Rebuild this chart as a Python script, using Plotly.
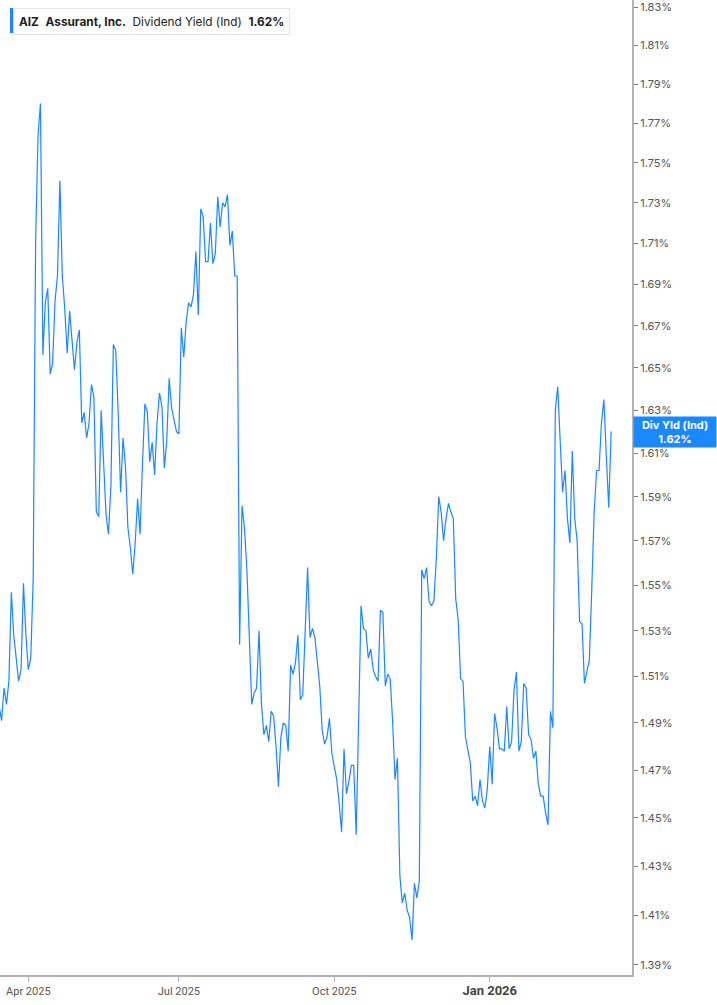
import math
import pandas as pd
import plotly.graph_objects as go

# AIZ - Assurant, Inc. indicated dividend yield (%), one value per trading day
ticker = "AIZ"
company = "Assurant, Inc."
metric = "Dividend Yield (Ind)"
first_day = "2025-03-14"
last_day = "2026-03-17"

# NYSE holidays inside the window (skipped on the axis)
holidays = ["2025-04-18", "2025-05-26", "2025-06-19", "2025-07-04", "2025-09-01",
            "2025-11-27", "2025-12-25", "2026-01-01", "2026-01-19", "2026-02-16"]

div_yield = [
    1.497, 1.491, 1.505, 1.498, 1.508, 1.547, 1.528, 1.518, 1.508, 1.513,
    1.551, 1.528, 1.513, 1.518, 1.553, 1.711, 1.764, 1.780, 1.656, 1.681,
    1.688, 1.647, 1.652, 1.682, 1.694, 1.741, 1.694, 1.678, 1.657, 1.677,
    1.664, 1.649, 1.662, 1.668, 1.624, 1.629, 1.617, 1.624, 1.642, 1.636,
    1.583, 1.581, 1.630, 1.605, 1.582, 1.573, 1.595, 1.661, 1.658, 1.629,
    1.592, 1.617, 1.604, 1.576, 1.567, 1.555, 1.569, 1.589, 1.573, 1.605,
    1.633, 1.629, 1.606, 1.615, 1.600, 1.624, 1.638, 1.632, 1.603, 1.616,
    1.645, 1.631, 1.626, 1.620, 1.619, 1.669, 1.655, 1.672, 1.681, 1.679,
    1.685, 1.706, 1.675, 1.727, 1.723, 1.701, 1.701, 1.720, 1.700, 1.705,
    1.733, 1.718, 1.730, 1.728, 1.734, 1.709, 1.716, 1.694, 1.694, 1.524,
    1.586, 1.576, 1.557, 1.525, 1.498, 1.503, 1.505, 1.530, 1.498, 1.485,
    1.489, 1.482, 1.495, 1.493, 1.480, 1.463, 1.484, 1.490, 1.489, 1.478,
    1.515, 1.511, 1.516, 1.528, 1.500, 1.502, 1.531, 1.558, 1.527, 1.531,
    1.527, 1.517, 1.506, 1.487, 1.481, 1.484, 1.492, 1.477, 1.471, 1.466,
    1.456, 1.444, 1.479, 1.460, 1.465, 1.472, 1.472, 1.443, 1.490, 1.541,
    1.531, 1.530, 1.518, 1.522, 1.513, 1.510, 1.508, 1.539, 1.538, 1.506,
    1.511, 1.509, 1.491, 1.466, 1.475, 1.426, 1.415, 1.419, 1.412, 1.409,
    1.400, 1.423, 1.417, 1.424, 1.557, 1.553, 1.558, 1.543, 1.541, 1.543,
    1.562, 1.590, 1.583, 1.570, 1.580, 1.587, 1.583, 1.580, 1.544, 1.535,
    1.509, 1.508, 1.484, 1.478, 1.473, 1.457, 1.459, 1.455, 1.466, 1.457,
    1.454, 1.462, 1.480, 1.464, 1.494, 1.488, 1.479, 1.479, 1.478, 1.497,
    1.479, 1.482, 1.504, 1.512, 1.478, 1.482, 1.507, 1.505, 1.485, 1.483,
    1.475, 1.478, 1.464, 1.459, 1.459, 1.452, 1.447, 1.495, 1.488, 1.630,
    1.641, 1.616, 1.592, 1.602, 1.580, 1.569, 1.611, 1.580, 1.570, 1.534,
    1.533, 1.507, 1.512, 1.517, 1.548, 1.583, 1.602, 1.602, 1.624, 1.635,
    1.609, 1.585, 1.620,
]

x_tick_dates = ["2025-04-01", "2025-07-01", "2025-10-01", "2026-01-02"]
x_tick_labels = ["Apr 2025", "Jul 2025", "Oct 2025",
                 "<b><span style='font-size:13px;color:#444'>Jan 2026</span></b>"]

y_ticks = [1.39, 1.41, 1.43, 1.45, 1.47, 1.49, 1.51, 1.53, 1.55, 1.57, 1.59, 1.61,
           1.63, 1.65, 1.67, 1.69, 1.71, 1.73, 1.75, 1.77, 1.79, 1.81, 1.83]
y_tick_labels = [f"{v:.2f}%" for v in y_ticks]

LINE_BLUE = "#1a88ff"
AXIS_GREY = "#b4b4b4"
W, H = 717, 1005
M_L, M_R, M_T, M_B = 0, 85, 0, 30
PLOT_W = W - M_L - M_R
PLOT_H = H - M_T - M_B

dates = pd.bdate_range(first_day, last_day, freq="C", holidays=holidays)
dates = dates[:len(div_yield)]
last_val = div_yield[-1]

fig = go.Figure()
fig.add_trace(go.Scatter(
    x=dates,
    y=div_yield,
    mode="lines",
    line=dict(color=LINE_BLUE, width=1.2),
    hoverinfo="x+y",
    showlegend=False,
))

fig.update_layout(
    width=W,
    height=H,
    margin=dict(l=M_L, r=M_R, t=M_T, b=M_B),
    paper_bgcolor="white",
    plot_bgcolor="white",
    font=dict(family="Inter, Roboto, sans-serif", size=11, color="#555"),
    xaxis=dict(
        type="date",
        range=["2025-03-14 08:00", "2026-03-27 14:00"],
        rangebreaks=[dict(bounds=["sat", "mon"]), dict(values=holidays)],
        tickmode="array",
        tickvals=x_tick_dates,
        ticktext=x_tick_labels,
        ticks="outside",
        ticklen=5,
        tickcolor=AXIS_GREY,
        showgrid=False,
        showline=True,
        linecolor=AXIS_GREY,
        linewidth=2,
        zeroline=False,
        ticklabeloverflow="allow",
        tickfont=dict(family="Roboto, sans-serif", size=11, color="#555"),
    ),
    yaxis=dict(
        type="log",
        side="right",
        range=[math.log10(1.386), math.log10(1.8337)],
        tickmode="array",
        tickvals=y_ticks,
        ticktext=y_tick_labels,
        ticks="outside",
        ticklen=4,
        tickcolor="#777",
        showgrid=False,
        showline=True,
        linecolor=AXIS_GREY,
        linewidth=2,
        zeroline=False,
        ticklabeloverflow="allow",
        tickfont=dict(family="Inter, sans-serif", size=11, color="#555"),
    ),
)

# legend box, top-left
fig.add_shape(
    type="rect", xref="paper", yref="paper",
    x0=10 / PLOT_W, x1=13 / PLOT_W, y0=1 - 33 / PLOT_H, y1=1 - 8 / PLOT_H,
    fillcolor=LINE_BLUE, line=dict(width=0),
)
fig.add_annotation(
    xref="paper", yref="paper",
    x=13 / PLOT_W, y=1 - 8 / PLOT_H,
    xanchor="left", yanchor="top",
    text=(f"<b>{ticker}</b>&nbsp;&nbsp;<b>{company}</b>&nbsp;&nbsp;"
          f"{metric}&nbsp;&nbsp;<b>{last_val:.2f}%</b>"),
    showarrow=False,
    align="left",
    font=dict(family="Inter, sans-serif", size=11.8, color="#222"),
    bgcolor="white",
    bordercolor="#e4e4e4",
    borderwidth=1,
    borderpad=5,
    height=15,
)

# last-value tag on the right axis
fig.add_annotation(
    xref="paper", yref="y",
    x=1, y=math.log10(last_val),
    xanchor="left", yanchor="middle",
    xshift=1,
    text=f"<b>Div Yld (Ind)</b><br><b>{last_val:.2f}%</b>",
    showarrow=False,
    font=dict(family="Inter, sans-serif", size=11, color="white"),
    bgcolor=LINE_BLUE,
    borderpad=1,
    width=80,
)

# drop the browser's default page margin so the chart sits at the window edge
fig.write_html(
    "out.html",
    config={"displayModeBar": False},
    post_script="document.body.style.margin = '0';",
)
